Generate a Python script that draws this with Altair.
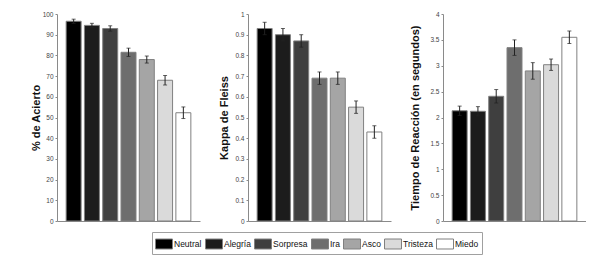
import altair as alt
import pandas as pd

categories = ["Neutral", "Alegría", "Sorpresa", "Ira", "Asco", "Tristeza", "Miedo"]
colors = ["#000000", "#1c1c1c", "#3f3f3f", "#6e6e6e", "#a5a5a5", "#dadada", "#ffffff"]

acierto = [96.5, 94.5, 93.0, 81.5, 78.0, 68.0, 52.3]
acierto_err = [1.0, 1.0, 1.3, 2.0, 1.7, 2.3, 2.8]
kappa = [0.93, 0.90, 0.87, 0.69, 0.69, 0.55, 0.43]
kappa_err = [0.03, 0.03, 0.03, 0.03, 0.03, 0.03, 0.03]
tiempo = [2.13, 2.12, 2.41, 3.35, 2.90, 3.02, 3.55]
tiempo_err = [0.09, 0.09, 0.13, 0.15, 0.16, 0.11, 0.12]

FONT = "Liberation Sans"


def panel(values, errs, title, ymax, step, fmt, tpad):
    df = pd.DataFrame({
        "cat": categories,
        "v": values,
        "lo": [v - e for v, e in zip(values, errs)],
        "hi": [v + e for v, e in zip(values, errs)],
    })
    ticks = [round(i * step, 3) for i in range(int(round(ymax / step)) + 1)]
    x = alt.X("cat:N", sort=categories,
              scale=alt.Scale(paddingInner=0.18, paddingOuter=0.5),
              axis=alt.Axis(labels=False, ticks=False, title=None, domainColor="#8a8a8a"))
    yscale = alt.Scale(domain=[0, ymax], nice=False)
    yaxis = alt.Axis(title=title, values=ticks, format=fmt, grid=False,
                     labelOverlap=False, tickCount=len(ticks),
                     domainColor="#8a8a8a", tickColor="#8a8a8a", tickSize=2,
                     labelFontSize=6.5, labelColor="#444444", labelFont=FONT,
                     titleFont=FONT, titleFontSize=11, titleFontWeight="bold",
                     titleColor="#111111", labelPadding=2, titlePadding=tpad)
    bars = alt.Chart(df).mark_bar(stroke="#808080", strokeWidth=1).encode(
        x=x,
        y=alt.Y("v:Q", scale=yscale, axis=yaxis),
        color=alt.Color("cat:N", sort=categories,
                        scale=alt.Scale(domain=categories, range=colors),
                        legend=alt.Legend(title=None)),
    )
    rules = alt.Chart(df).mark_rule(color="#222222", strokeWidth=1).encode(
        x=x, y=alt.Y("lo:Q", scale=yscale, axis=yaxis), y2="hi:Q")
    cap_lo = alt.Chart(df).mark_tick(color="#222222", thickness=1, size=4).encode(
        x=x, y=alt.Y("lo:Q", scale=yscale, axis=yaxis))
    cap_hi = alt.Chart(df).mark_tick(color="#222222", thickness=1, size=4).encode(
        x=x, y=alt.Y("hi:Q", scale=yscale, axis=yaxis))
    return alt.layer(bars, rules, cap_lo, cap_hi).properties(width=143, height=207)


p1 = panel(acierto, acierto_err, "% de Acierto", 100, 10, "d", 1)
p2 = panel(kappa, kappa_err, "Kappa de Fleiss", 1, 0.1, "~g", 5)
p3 = panel(tiempo, tiempo_err, "Tiempo de Reacción (en segundos)", 4, 0.5, "~g", 9)

chart = alt.hconcat(p1, p2, p3, spacing=18).properties(
    padding={"left": 30, "top": 11, "right": 0, "bottom": 0}
).configure_view(stroke=None).configure_legend(
    orient="none", legendX=95, legendY=218,
    direction="horizontal", columns=7,
    symbolType="M-1,-0.588H1V0.588H-1Z", symbolSize=289,
    symbolStrokeColor="#808080", symbolStrokeWidth=1, symbolOpacity=1,
    labelFont=FONT, labelFontSize=8.5, labelColor="#111111",
    strokeColor="#a0a0a0", padding=3,
    columnPadding=1, labelOffset=1, symbolOffset=0,
).configure_tick(bandSize=4)

chart.save("out.html", embed_options={"renderer": "svg", "actions": False})
